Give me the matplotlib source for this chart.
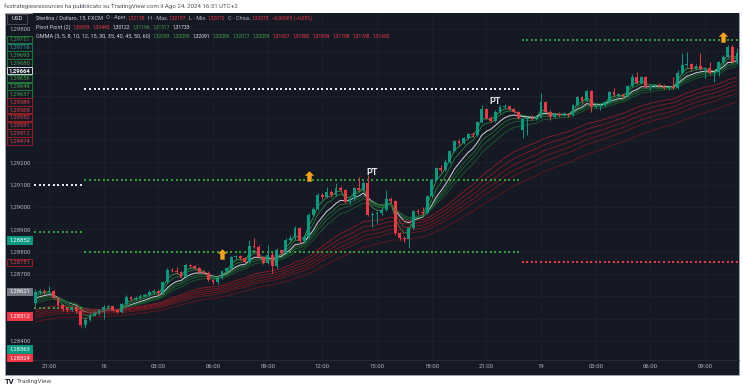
"""TradingView style GBP/USD 15m chart with GMMA ribbons and daily pivot points."""

import matplotlib

matplotlib.use("Agg")
import matplotlib.pyplot as plt
import numpy as np
from matplotlib.patches import Rectangle
from matplotlib.path import Path

# ---------------------------------------------------------------- data
bar_opens = [
    1.28569, 1.28619, 1.28623, 1.28619, 1.28623, 1.28592, 1.28560, 1.28542, 1.28538, 1.28547,
    1.28533, 1.28471, 1.28493, 1.28515, 1.28524, 1.28538, 1.28551, 1.28556, 1.28538, 1.28529,
    1.28565, 1.28596, 1.28587, 1.28592, 1.28601, 1.28605, 1.28619, 1.28623, 1.28614, 1.28664,
    1.28717, 1.28713, 1.28708, 1.28686, 1.28740, 1.28735, 1.28726, 1.28708, 1.28704, 1.28672,
    1.28664, 1.28681, 1.28713, 1.28726, 1.28776, 1.28780, 1.28771, 1.28753, 1.28825, 1.28820,
    1.28776, 1.28749, 1.28785, 1.28735, 1.28807, 1.28793, 1.28852, 1.28861, 1.28906, 1.28847,
    1.28865, 1.28964, 1.28991, 1.29054, 1.29045, 1.29067, 1.29054, 1.29085, 1.29076, 1.29022,
    1.29036, 1.29085, 1.29076, 1.29107, 1.28964, 1.28968, 1.28973, 1.28986, 1.29036, 1.29027,
    1.28883, 1.28861, 1.28856, 1.28906, 1.28982, 1.28977, 1.28973, 1.29049, 1.29121, 1.29175,
    1.29166, 1.29202, 1.29251, 1.29296, 1.29287, 1.29309, 1.29327, 1.29323, 1.29381, 1.29439,
    1.29399, 1.29385, 1.29426, 1.29448, 1.29453, 1.29439, 1.29426, 1.29345, 1.29394, 1.29399,
    1.29394, 1.29403, 1.29471, 1.29426, 1.29403, 1.29417, 1.29412, 1.29417, 1.29412, 1.29457,
    1.29493, 1.29475, 1.29520, 1.29448, 1.29453, 1.29457, 1.29471, 1.29515, 1.29502, 1.29506,
    1.29497, 1.29542, 1.29583, 1.29556, 1.29583, 1.29538, 1.29542, 1.29547, 1.29542, 1.29533,
    1.29538, 1.29533, 1.29601, 1.29636, 1.29641, 1.29619, 1.29632, 1.29619, 1.29623, 1.29601,
    1.29605, 1.29650, 1.29672, 1.29717, 1.29650,
]
bar_highs = [
    1.28632, 1.28632, 1.28632, 1.28646, 1.28628, 1.28596, 1.28565, 1.28551, 1.28556, 1.28556,
    1.28538, 1.28502, 1.28524, 1.28533, 1.28542, 1.28560, 1.28560, 1.28556, 1.28542, 1.28569,
    1.28605, 1.28601, 1.28601, 1.28610, 1.28614, 1.28628, 1.28632, 1.28628, 1.28668, 1.28726,
    1.28726, 1.28731, 1.28713, 1.28749, 1.28744, 1.28740, 1.28731, 1.28717, 1.28713, 1.28677,
    1.28686, 1.28717, 1.28731, 1.28780, 1.28785, 1.28785, 1.28776, 1.28852, 1.28861, 1.28829,
    1.28780, 1.28829, 1.28798, 1.28816, 1.28811, 1.28861, 1.28874, 1.28915, 1.28910, 1.28874,
    1.28973, 1.29000, 1.29063, 1.29063, 1.29089, 1.29076, 1.29107, 1.29094, 1.29081, 1.29045,
    1.29089, 1.29134, 1.29116, 1.29143, 1.28977, 1.28982, 1.28995, 1.29076, 1.29045, 1.29031,
    1.28888, 1.28870, 1.28910, 1.28986, 1.28991, 1.29000, 1.29054, 1.29125, 1.29179, 1.29188,
    1.29215, 1.29255, 1.29300, 1.29305, 1.29314, 1.29332, 1.29336, 1.29385, 1.29457, 1.29444,
    1.29408, 1.29435, 1.29457, 1.29462, 1.29453, 1.29444, 1.29430, 1.29399, 1.29408, 1.29412,
    1.29412, 1.29511, 1.29475, 1.29435, 1.29421, 1.29426, 1.29426, 1.29421, 1.29462, 1.29497,
    1.29497, 1.29524, 1.29524, 1.29462, 1.29466, 1.29475, 1.29520, 1.29533, 1.29511, 1.29506,
    1.29547, 1.29596, 1.29605, 1.29587, 1.29587, 1.29551, 1.29551, 1.29556, 1.29551, 1.29542,
    1.29583, 1.29614, 1.29690, 1.29695, 1.29645, 1.29641, 1.29690, 1.29628, 1.29650, 1.29610,
    1.29654, 1.29681, 1.29726, 1.29726, 1.29713,
]
bar_lows = [
    1.28556, 1.28610, 1.28610, 1.28614, 1.28587, 1.28556, 1.28533, 1.28529, 1.28533, 1.28524,
    1.28462, 1.28457, 1.28489, 1.28511, 1.28515, 1.28498, 1.28542, 1.28533, 1.28524, 1.28524,
    1.28560, 1.28578, 1.28583, 1.28587, 1.28596, 1.28601, 1.28610, 1.28605, 1.28610, 1.28659,
    1.28708, 1.28699, 1.28681, 1.28681, 1.28726, 1.28722, 1.28704, 1.28699, 1.28668, 1.28655,
    1.28655, 1.28677, 1.28708, 1.28722, 1.28767, 1.28762, 1.28749, 1.28749, 1.28816, 1.28771,
    1.28744, 1.28744, 1.28704, 1.28726, 1.28785, 1.28789, 1.28847, 1.28852, 1.28838, 1.28843,
    1.28861, 1.28959, 1.28986, 1.29036, 1.29040, 1.29045, 1.29049, 1.29067, 1.29018, 1.29013,
    1.29031, 1.29072, 1.29072, 1.28959, 1.28910, 1.28928, 1.28964, 1.28982, 1.29018, 1.28874,
    1.28852, 1.28843, 1.28816, 1.28901, 1.28968, 1.28964, 1.28968, 1.29045, 1.29116, 1.29157,
    1.29161, 1.29197, 1.29246, 1.29278, 1.29282, 1.29305, 1.29314, 1.29318, 1.29376, 1.29394,
    1.29381, 1.29381, 1.29421, 1.29439, 1.29435, 1.29421, 1.29394, 1.29309, 1.29323, 1.29390,
    1.29390, 1.29399, 1.29421, 1.29390, 1.29399, 1.29403, 1.29408, 1.29403, 1.29408, 1.29453,
    1.29466, 1.29471, 1.29426, 1.29444, 1.29435, 1.29453, 1.29466, 1.29497, 1.29493, 1.29489,
    1.29493, 1.29538, 1.29551, 1.29551, 1.29533, 1.29524, 1.29538, 1.29538, 1.29529, 1.29524,
    1.29529, 1.29529, 1.29596, 1.29628, 1.29610, 1.29614, 1.29614, 1.29578, 1.29596, 1.29560,
    1.29587, 1.29641, 1.29668, 1.29645, 1.29641,
]
bar_closes = [
    1.28619, 1.28623, 1.28619, 1.28623, 1.28592, 1.28560, 1.28542, 1.28538, 1.28547, 1.28533,
    1.28471, 1.28493, 1.28515, 1.28524, 1.28538, 1.28551, 1.28556, 1.28538, 1.28529, 1.28565,
    1.28596, 1.28587, 1.28592, 1.28601, 1.28605, 1.28619, 1.28623, 1.28614, 1.28664, 1.28717,
    1.28713, 1.28708, 1.28686, 1.28740, 1.28735, 1.28726, 1.28708, 1.28704, 1.28672, 1.28664,
    1.28681, 1.28713, 1.28726, 1.28776, 1.28780, 1.28771, 1.28753, 1.28825, 1.28820, 1.28776,
    1.28749, 1.28785, 1.28735, 1.28807, 1.28793, 1.28852, 1.28861, 1.28906, 1.28847, 1.28865,
    1.28964, 1.28991, 1.29054, 1.29045, 1.29067, 1.29054, 1.29085, 1.29076, 1.29022, 1.29036,
    1.29085, 1.29076, 1.29107, 1.28964, 1.28968, 1.28973, 1.28986, 1.29036, 1.29027, 1.28883,
    1.28861, 1.28856, 1.28906, 1.28982, 1.28977, 1.28973, 1.29049, 1.29121, 1.29175, 1.29166,
    1.29202, 1.29251, 1.29296, 1.29287, 1.29309, 1.29327, 1.29323, 1.29381, 1.29439, 1.29399,
    1.29385, 1.29426, 1.29448, 1.29453, 1.29439, 1.29426, 1.29399, 1.29394, 1.29399, 1.29394,
    1.29403, 1.29471, 1.29426, 1.29403, 1.29417, 1.29412, 1.29417, 1.29412, 1.29457, 1.29493,
    1.29475, 1.29520, 1.29448, 1.29453, 1.29457, 1.29471, 1.29515, 1.29502, 1.29506, 1.29497,
    1.29542, 1.29583, 1.29556, 1.29583, 1.29538, 1.29542, 1.29547, 1.29542, 1.29533, 1.29538,
    1.29533, 1.29601, 1.29636, 1.29641, 1.29619, 1.29632, 1.29619, 1.29623, 1.29601, 1.29605,
    1.29650, 1.29672, 1.29717, 1.29650, 1.29690,
]

time_tick_bars = [3, 15, 27, 39, 51, 63, 75, 87, 99, 111, 123, 135, 147]
time_tick_labels = ["21:00", "16", "03:00", "06:00", "09:00", "12:00", "15:00",
                    "18:00", "21:00", "19", "03:00", "06:00", "09:00"]
price_ticks = [1.28400, 1.28500, 1.28600, 1.28700, 1.28800, 1.28900, 1.29000,
               1.29100, 1.29200, 1.29300, 1.29400, 1.29500, 1.29600, 1.29700, 1.29800]

gmma_periods = [3, 5, 8, 10, 12, 15, 30, 35, 40, 45, 50, 60]
gmma_start = [1.28600, 1.28592, 1.28583, 1.28578, 1.28569, 1.28560,
              1.28533, 1.28524, 1.28515, 1.28507, 1.28498, 1.28480]

pivot_first_bar = [0, 0, 0, 11, 11, 11, 107, 107]
pivot_last_bar = [10, 10, 10, 106, 106, 106, 154, 154]
pivot_levels = [1.29098, 1.28888, 1.28547, 1.29529, 1.29121, 1.28798, 1.29749, 1.28753]
pivot_kinds = ["pivot", "support", "support", "pivot", "support", "support", "support", "resist"]

signal_bars = [41, 60, 151]
signal_prices = [1.28789, 1.29139, 1.29762]
pt_bars = [74, 101]
pt_prices = [1.29157, 1.29475]

axis_label_values = [1.29751, 1.29716, 1.29693, 1.29680, 1.29664, 1.29656, 1.29648,
                     1.29637, 1.29589, 1.29568, 1.29550, 1.29531, 1.29512, 1.29474,
                     1.28852, 1.28751, 1.28621, 1.28512, 1.28363, 1.28324]
axis_label_kinds = ["green", "teal", "green", "green", "white", "green", "green",
                    "green", "red", "red", "red", "red", "red", "red",
                    "teal_fill", "red", "gray_fill", "red_fill", "teal_fill", "red_fill"]

ohlc_names = ["O - Aper.", "H - Max.", "L - Min.", "C - Chius."]
ohlc_values = ["1,32138", "1,32187", "1,32072", "1,32073"]
ohlc_change = "\u22120,00065 (\u22120,05%)"
pivot_legend_values = ["1,30659", "1,30443", "1,30122", "1,31196", "1,31517", "1,31733"]
pivot_legend_kinds = ["red", "red", "white", "green", "green", "white"]
gmma_legend_values = ["1,32093", "1,32095", "1,32091", "1,32086", "1,32077", "1,32059",
                      "1,31927", "1,31882", "1,31839", "1,31798", "1,31768", "1,31692"]

# ---------------------------------------------------------------- style
W, H = 743, 390
FONT = ["Roboto", "DejaVu Sans"]
BG = "#151924"
GRID = "#1d212c"
TEXT = "#b2b5be"
UP = "#089981"
DOWN = "#f23645"
LEGEND_TEXT = 4.0
LEGEND_NUM = 3.5
LEGEND_COLORS = {"red": "#f23645", "green": "#43a047", "white": "#e6e8ee"}
GMMA_COLORS = ["#2e9e4a", "#23803c", "#c9cbd1", "#1f6f35", "#1d6532", "#1b5c2e",
               "#8f1d26", "#861b24", "#7e1a22", "#771920", "#70181f", "#68161d"]
PIVOT_COLORS = {"pivot": "#e6e8ee", "support": "#2e9e3a", "resist": "#e53945"}
LABEL_STYLES = {
    "green": (BG, "#1f7a3a", "#43a047", "normal"),
    "teal": (BG, "#1d6f6a", "#26a69a", "normal"),
    "white": (BG, "#d1d4dc", "#ffffff", "bold"),
    "red": (BG, "#9b1c24", "#e0434f", "normal"),
    "teal_fill": ("#089981", "#089981", "#ffffff", "normal"),
    "gray_fill": ("#787b86", "#787b86", "#ffffff", "normal"),
    "red_fill": ("#f23645", "#f23645", "#ffffff", "normal"),
}


def ema(values, period, seed):
    """Exponential moving average started from a seed value."""
    alpha = 2.0 / (period + 1.0)
    out = np.empty(len(values))
    level = seed
    for index, value in enumerate(values):
        level = level + alpha * (value - level)
        out[index] = level
    return out


def draw_run(fig, renderer, x_px, y_px, pieces):
    """Draw coloured text pieces one after another on a line."""
    for text, color, gap, size in pieces:
        x_px += gap
        item = fig.text(x_px / W, 1 - y_px / H, text, color=color, fontsize=size,
                        family=FONT, va="center", ha="left", zorder=6)
        x_px += item.get_window_extent(renderer).width


def fmt(value):
    return f"{value:.5f}".replace(".", ",")


opens = np.asarray(bar_opens)
highs = np.asarray(bar_highs)
lows = np.asarray(bar_lows)
closes = np.asarray(bar_closes)
bars = np.arange(len(closes))

fig = plt.figure(figsize=(W / 100, H / 100), dpi=100, facecolor="white")
fig.add_artist(Rectangle((5 / W, 1 - 375 / H), 734 / W, 362 / H, transform=fig.transFigure,
                         facecolor=BG, edgecolor="#a3a6af", linewidth=0.6, zorder=-1))

ax = fig.add_axes([33 / W, 1 - 360 / H, (739 - 33) / W, (360 - 13) / H])
ax.set_facecolor(BG)
ax.set_xlim(-0.5, 154.45)
ax.set_ylim(1.28314, 1.29870)
for spine in ax.spines.values():
    spine.set_visible(False)
ax.axhline(1.28314, color="#2a2e39", lw=0.6, clip_on=False)

# price scale labels, stacked top-down so they never overlap
label_h = 7.4
step = 7.8
label_rows = []
previous = -1e9
for index in np.argsort(axis_label_values)[::-1]:
    value = axis_label_values[index]
    natural = H - ax.transData.transform((0, value))[1]
    y_px = max(natural, previous + step)
    previous = y_px
    label_rows.append((value, axis_label_kinds[index], y_px))

# tick labels hidden behind a price label are left blank, as on the original scale
tick_texts = []
for tick in price_ticks:
    tick_y = H - ax.transData.transform((0, tick))[1]
    covered = any(abs(tick_y - row[2]) < label_h for row in label_rows)
    tick_texts.append("" if covered else fmt(tick))

ax.set_xticks(time_tick_bars)
ax.set_xticklabels(time_tick_labels, family=FONT)
ax.set_yticks(price_ticks)
ax.set_yticklabels(tick_texts, family=FONT)
ax.tick_params(axis="x", length=0, pad=3.0, labelsize=4.3, labelcolor=TEXT)
ax.tick_params(axis="y", length=0, pad=1.5, labelsize=4.3, labelcolor=TEXT)
ax.grid(True, color=GRID, lw=0.6)
ax.set_axisbelow(True)

# pivot point levels, one dot per bar
for first, last, level, kind in zip(pivot_first_bar, pivot_last_bar, pivot_levels, pivot_kinds):
    xs = np.arange(first, last + 1)
    size = 2.2 if kind == "pivot" else 1.6
    ax.scatter(xs, np.full(len(xs), level), marker="s", s=size, color=PIVOT_COLORS[kind],
               linewidths=0, zorder=3)

# GMMA ribbons
for period, seed, color in zip(gmma_periods, gmma_start, GMMA_COLORS):
    line = ema(closes, period, seed)
    width = 0.75 if color == "#c9cbd1" else 0.6
    ax.plot(bars, line, color=color, lw=width, zorder=2, solid_capstyle="round")

# candles
rising = closes >= opens
colors = np.where(rising, UP, DOWN)
ax.vlines(bars, lows, highs, colors=colors, lw=0.7, zorder=4)
body = np.maximum(np.abs(closes - opens), 0.00003)
ax.bar(bars, body, bottom=np.minimum(opens, closes), width=0.62, color=colors,
       linewidth=0, zorder=5)

# breakout arrows and PT marks
arrow = Path([(0, 1), (0.9, 0.15), (0.42, 0.15), (0.42, -1), (-0.42, -1),
              (-0.42, 0.15), (-0.9, 0.15), (0, 1)])
ax.plot(signal_bars, signal_prices, linestyle="none", marker=arrow, markersize=7.5,
        color="#f7a21b", markeredgewidth=0, zorder=6)
for bar, price in zip(pt_bars, pt_prices):
    ax.text(bar, price, "PT", color="#e6e8ee", fontsize=6.5, fontweight="bold",
            family=FONT, ha="center", va="center", zorder=6)

for value, kind, y_px in label_rows:
    face, edge, text_color, weight = LABEL_STYLES[kind]
    fig.add_artist(Rectangle((7 / W, 1 - (y_px + label_h / 2) / H), 25 / W, label_h / H,
                             transform=fig.transFigure, facecolor=face, edgecolor=edge,
                             linewidth=0.7, zorder=5))
    fig.text(19.5 / W, 1 - y_px / H, fmt(value), color=text_color, fontsize=4.2,
             fontweight=weight, family=FONT, ha="center", va="center", zorder=6)

# currency box
fig.add_artist(Rectangle((7 / W, 1 - 24 / H), 20 / W, 10 / H, transform=fig.transFigure,
                         facecolor=BG, edgecolor="#50535e", linewidth=0.6, zorder=5))
fig.text(17 / W, 1 - 19 / H, "USD", color="#e6e8ee", fontsize=4.3, family=FONT,
         ha="center", va="center", zorder=6)

# legend lines
renderer = fig.canvas.get_renderer()
line1 = [("Sterlina / Dollaro, 15, FXCM", "#d1d4dc", 0, LEGEND_TEXT)]
for name, value in zip(ohlc_names, ohlc_values):
    line1.append((name, TEXT, 3, LEGEND_TEXT))
    line1.append((value, LEGEND_COLORS["red"], 0.5, LEGEND_NUM))
line1.append((ohlc_change, LEGEND_COLORS["red"], 3, LEGEND_NUM))
draw_run(fig, renderer, 36, 18, line1)

line2 = [("Pivot Point (2)", "#d1d4dc", 0, LEGEND_TEXT)]
for value, kind in zip(pivot_legend_values, pivot_legend_kinds):
    line2.append((value, LEGEND_COLORS[kind], 2.5, LEGEND_NUM))
draw_run(fig, renderer, 36, 27, line2)

period_text = ", ".join(str(p) for p in gmma_periods)
line3 = [(f"GMMA ({period_text})", "#d1d4dc", 0, LEGEND_TEXT)]
for index, value in enumerate(gmma_legend_values):
    kind = "red" if index >= 6 else ("white" if index == 2 else "green")
    line3.append((value, LEGEND_COLORS[kind], 2.5, LEGEND_NUM))
draw_run(fig, renderer, 36, 36, line3)

# header and footer
fig.text(4 / W, 1 - 6.5 / H,
         "fxstrategiesresources ha pubblicato su TradingView.com il Ago 24, 2024 16:31 UTC+2",
         color="#50535e", fontsize=4.4, family=FONT, ha="left", va="center")
fig.text(5 / W, 1 - 381.5 / H, "TV", color="#131722", fontsize=5.5, fontweight="bold",
         family=FONT, ha="left", va="center")
fig.text(17 / W, 1 - 381.5 / H, "TradingView", color="#50535e", fontsize=4.6,
         family=FONT, ha="left", va="center")

fig.savefig("out.png", dpi=100, facecolor="white")
